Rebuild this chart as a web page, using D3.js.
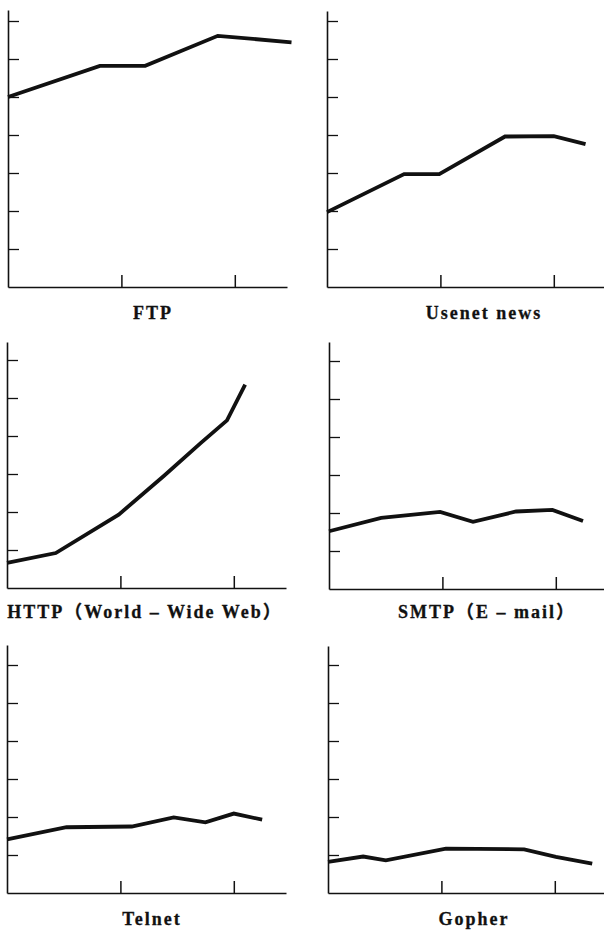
<!DOCTYPE html>
<html>
<head>
<meta charset="utf-8">
<script src="https://cdn.jsdelivr.net/npm/d3@7"></script>
<style>
  body { margin: 0; background: #fff; }
  svg { display: block; }
  .lbl { font-family: "Liberation Serif", "Times New Roman", "Noto Sans CJK SC", serif; font-weight: bold; font-size: 18px; letter-spacing: 2px; fill: #111; stroke: #111; stroke-width: 0.3px; }
</style>
</head>
<body>
<div class="canvas"></div>
<script>

// data (x in tick units, y in tick units)
var ftpX = [0, 0.81, 1.21, 1.85, 2.5];
var ftpY = [5.0, 5.82, 5.82, 6.61, 6.44];

var usenetX = [0, 0.68, 0.99, 1.57, 2.0, 2.28];
var usenetY = [1.97, 2.97, 2.97, 3.96, 3.97, 3.76];

var httpX = [0, 0.43, 0.985, 1.38, 1.71, 1.94, 2.10];
var httpY = [0.66, 0.92, 1.93, 2.94, 3.82, 4.41, 5.35];

var smtpX = [0, 0.46, 0.98, 1.27, 1.65, 1.97, 2.24];
var smtpY = [1.52, 1.87, 2.03, 1.77, 2.04, 2.08, 1.79];

var telnetX = [0, 0.525, 1.10, 1.47, 1.75, 2.0, 2.25];
var telnetY = [1.41, 1.73, 1.75, 1.99, 1.86, 2.09, 1.93];

var gopherX = [0, 0.31, 0.51, 1.04, 1.73, 2.01, 2.33];
var gopherY = [0.82, 0.96, 0.86, 1.17, 1.15, 0.95, 0.77];

var titles = ["FTP", "Usenet news", "HTTP（World – Wide Web）", "SMTP（E – mail）", "Telnet", "Gopher"];
var xTickVals = [1, 2];

var width = 604, height = 931;
var unitX = 113.4, unitY = 38;

var svg = d3.select('.canvas')
    .append('svg')
    .attr('width', width)
    .attr('height', height);

// panel layout: origin x, baseline y, axis top, x axis end, y tick count, label pos
var panels = [
  {xs: ftpX, ys: ftpY, ox: 8, base: 287, top: 10, xEnd: 287, n: 7, lx: 153, ly: 319},
  {xs: usenetX, ys: usenetY, ox: 327, base: 287, top: 11, xEnd: 604, n: 7, lx: 484, ly: 319},
  {xs: httpX, ys: httpY, ox: 7, base: 588, top: 342, xEnd: 286, n: 6, lx: 145, ly: 618},
  {xs: smtpX, ys: smtpY, ox: 329, base: 589, top: 342, xEnd: 604, n: 6, lx: 487, ly: 618},
  {xs: telnetX, ys: telnetY, ox: 7, base: 893, top: 645, xEnd: 286, n: 6, lx: 152, ly: 925},
  {xs: gopherX, ys: gopherY, ox: 328, base: 893, top: 646, xEnd: 604, n: 6, lx: 474, ly: 925}
];

panels.forEach(function(p, i) {
    var x = d3.scaleLinear().domain([0, (p.xEnd - p.ox) / unitX]).range([p.ox, p.xEnd]);
    var y = d3.scaleLinear().domain([0, (p.base - p.top) / unitY]).range([p.base, p.top]);
    var g = svg.append('g');

    g.append('g')
        .attr('transform', 'translate(' + p.ox + ',0)')
        .call(d3.axisLeft(y).tickValues(d3.range(1, p.n + 1)).tickSizeInner(-11).tickSizeOuter(0).tickFormat(''))
        .call(function(a) {
            a.select('.domain').attr('stroke', '#111').attr('stroke-width', 1.6);
            a.selectAll('.tick line').attr('stroke', '#111').attr('stroke-width', 1.3);
        });

    g.append('g')
        .attr('transform', 'translate(0,' + p.base + ')')
        .call(d3.axisBottom(x).tickValues(xTickVals).tickSizeInner(-12).tickSizeOuter(0).tickFormat(''))
        .call(function(a) {
            a.select('.domain').attr('stroke', '#111').attr('stroke-width', 1.6);
            a.selectAll('.tick line').attr('stroke', '#111').attr('stroke-width', 1.5);
        });

    var pts = p.xs.map(function(d, j) { return [d, p.ys[j]]; });
    var line = d3.line()
        .x(function(d) { return x(d[0]); })
        .y(function(d) { return y(d[1]); });

    g.append('path')
        .datum(pts)
        .attr('d', line)
        .attr('fill', 'none')
        .attr('stroke', '#111')
        .attr('stroke-width', 3.8)
        .attr('stroke-linejoin', 'miter');

    g.append('text')
        .attr('class', 'lbl')
        .attr('x', p.lx)
        .attr('y', p.ly)
        .attr('text-anchor', 'middle')
        .text(titles[i]);
});
</script>
</body>
</html>
